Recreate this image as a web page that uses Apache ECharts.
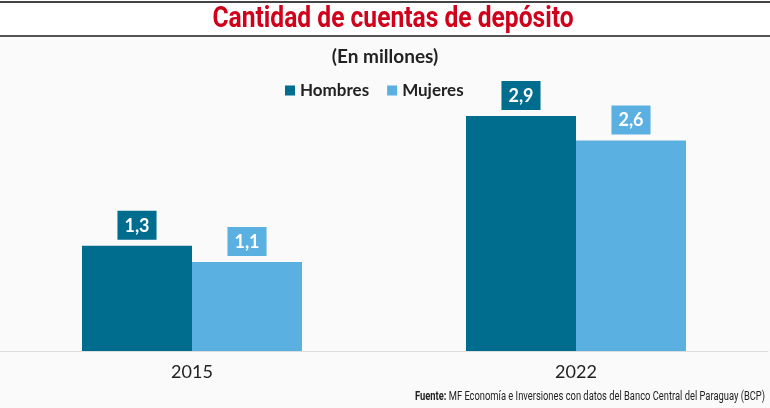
<!DOCTYPE html>
<html><head><meta charset="utf-8">
<script src="https://cdn.jsdelivr.net/npm/echarts@6/dist/echarts.min.js"></script>
<style>html,body{margin:0;padding:0;background:#fafafa}#c{width:770px;height:408px}</style>
</head><body><div id="c"></div>
<script>
const categories = ['2015', '2022'];
const hombres = [1.3, 2.9];
const mujeres = [1.1, 2.6];
const seriesNames = ['Hombres', 'Mujeres'];
const colors = ['#006d8f', '#5ab0e0'];

const chart = echarts.init(document.getElementById('c'));
const fmt = p => String(p.value).replace('.', ',');
function lbl(color) {
  return {
    show: true, position: 'top', distance: 6, formatter: fmt,
    backgroundColor: color, color: '#fff', fontWeight: 'bold',
    fontFamily: 'Lato', fontSize: 18, padding: [6, 7, 5, 7]
  };
}
chart.setOption({
  backgroundColor: '#fafafa',
  animation: false,
  title: [
    { text: '(En millones)', left: 'center', top: 42,
      textStyle: { color: '#222', fontFamily: 'Lato', fontWeight: 'bold', fontSize: 19 } }
  ],
  graphic: [
    { type: 'rect', shape: { x: 0, y: 0, width: 770, height: 36 }, style: { fill: '#ffffff' }, z: -1 },
    { type: 'line', shape: { x1: 0, y1: 2, x2: 770, y2: 2 }, style: { stroke: '#444', lineWidth: 2 } },
    { type: 'line', shape: { x1: 0, y1: 36, x2: 770, y2: 36 }, style: { stroke: '#555', lineWidth: 2 } },
    { type: 'text', x: 393, y: 19, scaleX: 0.82,
      style: { text: 'Cantidad de cuentas de depósito', fill: '#d0021b', font: 'bold 30px Roboto',
               align: 'center', verticalAlign: 'middle' } },
    { type: 'text', x: 765, y: 397, scaleX: 0.78,
      style: { rich: { b: { fontWeight: 'bold', fontFamily: 'Roboto', fontSize: 12, fill: '#222' },
                       n: { fontFamily: 'Roboto', fontSize: 12, fill: '#222' } },
               text: '{b|Fuente:}{n| MF Economía e Inversiones con datos del Banco Central del Paraguay (BCP)}',
               align: 'right', verticalAlign: 'middle' } }
  ],
  legend: {
    top: 77, left: 280, itemWidth: 10, itemHeight: 10, itemGap: 18,
    icon: 'rect',
    textStyle: { color: '#222', fontFamily: 'Lato', fontWeight: 'bold', fontSize: 17 },
    data: seriesNames
  },
  grid: { left: 0, right: 2, top: 67.5, bottom: 57 },
  xAxis: {
    type: 'category', data: categories,
    axisLine: { lineStyle: { color: '#ddd', width: 1 } },
    axisTick: { show: false },
    axisLabel: { color: '#222', fontFamily: 'Lato', fontSize: 18, margin: 12 }
  },
  yAxis: { type: 'value', min: 0, max: 3.5, show: false, splitLine: { show: false } },
  series: [
    { name: seriesNames[0], type: 'bar', data: hombres, barWidth: 110, barGap: '0%',
      itemStyle: { color: colors[0] }, label: lbl(colors[0]) },
    { name: seriesNames[1], type: 'bar', data: mujeres, barWidth: 110,
      itemStyle: { color: colors[1] }, label: lbl(colors[1]) }
  ]
});
</script></body></html>
